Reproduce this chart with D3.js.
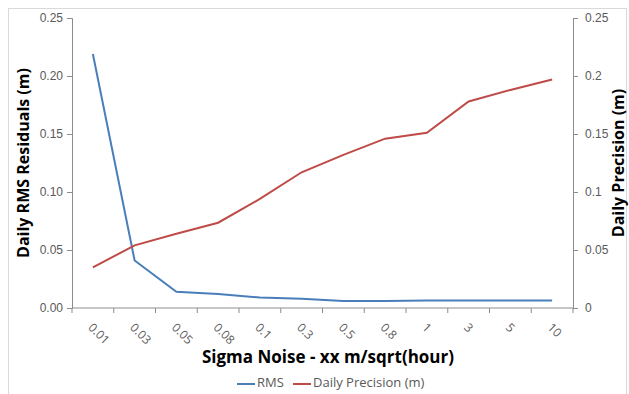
<!DOCTYPE html>
<html>
<head>
<meta charset="utf-8">
<script src="https://cdn.jsdelivr.net/npm/d3@7"></script>
<style>
  body { margin: 0; background: #fff; }
  svg { font-family: "Open Sans", "Noto Sans", sans-serif; }
</style>
</head>
<body>
<svg id="chart" width="629" height="394"></svg>
<script>
const categories = ['0.01', '0.03', '0.05', '0.08', '0.1', '0.3', '0.5', '0.8', '1', '3', '5', '10'];
const rms = [0.219, 0.041, 0.014, 0.012, 0.009, 0.008, 0.006, 0.006, 0.0065, 0.0065, 0.0065, 0.0065];
const precision = [0.035, 0.054, 0.064, 0.0735, 0.094, 0.117, 0.132, 0.146, 0.151, 0.178, 0.188, 0.197];
const leftTicks = [0, 0.05, 0.10, 0.15, 0.20, 0.25];
const rightTicks = [0, 0.05, 0.1, 0.15, 0.2, 0.25];

const margin = {left: 72, right: 56, top: 18, bottom: 86};
const width = 629 - margin.left - margin.right;
const height = 394 - margin.top - margin.bottom;

const root = d3.select('#chart');

// outer frame
root.append('rect')
  .attr('x', 8.5).attr('y', 8.5)
  .attr('width', 618).attr('height', 400)
  .attr('fill', 'none')
  .attr('stroke', '#d9d9d9');

const svg = root.append('g')
  .attr('transform', 'translate(' + margin.left + ',' + margin.top + ')');

const x = d3.scaleBand()
  .domain(categories)
  .range([0, width]);

const y = d3.scaleLinear().domain([0, 0.25]).range([height, 0]);
const y2 = d3.scaleLinear().domain([0, 0.25]).range([height, 0]);

const axisColor = '#8c8c8c';
const labelColor = '#595959';

// left axis
const gl = svg.append('g')
  .call(d3.axisLeft(y).tickValues(leftTicks).tickFormat(d3.format('.2f')).tickSize(5).tickPadding(4));

// right axis
const gr = svg.append('g')
  .attr('transform', 'translate(' + width + ',0)')
  .call(d3.axisRight(y2).tickValues(rightTicks).tickFormat(d => d === 0 ? '0' : String(d)).tickSize(5).tickPadding(7));

// bottom axis: ticks at band edges
const gb = svg.append('g')
  .attr('transform', 'translate(0,' + height + ')');
gb.append('line')
  .attr('x1', 0).attr('x2', width)
  .attr('stroke', axisColor);
gb.selectAll('.edge')
  .data(d3.range(categories.length + 1))
  .enter().append('line')
  .attr('class', 'edge')
  .attr('x1', i => i * x.step()).attr('x2', i => i * x.step())
  .attr('y1', 0).attr('y2', 5)
  .attr('stroke', axisColor);
gb.selectAll('.lab')
  .data(categories)
  .enter().append('text')
  .attr('class', 'lab')
  .attr('transform', d => 'translate(' + (x(d) + x.bandwidth() / 2 - 3) + ',18) rotate(45)')
  .attr('text-anchor', 'start')
  .attr('dominant-baseline', 'middle')
  .attr('fill', labelColor)
  .style('font-size', '12px')
  .text(d => d);

[gl, gr].forEach(g => {
  g.select('.domain').attr('stroke', axisColor);
  g.selectAll('.tick line').attr('stroke', axisColor);
  g.selectAll('.tick text').attr('fill', labelColor).style('font-size', '12px');
});

const cx = d => x(d) + x.bandwidth() / 2;

svg.append('path')
  .datum(rms)
  .attr('fill', 'none')
  .attr('stroke', '#4a7ebb')
  .attr('stroke-width', 2)
  .attr('d', d3.line().x((d, i) => cx(categories[i])).y(d => y(d)));

svg.append('path')
  .datum(precision)
  .attr('fill', 'none')
  .attr('stroke', '#be4b48')
  .attr('stroke-width', 2)
  .attr('d', d3.line().x((d, i) => cx(categories[i])).y(d => y2(d)));

// axis titles
root.append('text')
  .attr('transform', 'translate(29,' + (margin.top + height / 2) + ') rotate(-90)')
  .attr('text-anchor', 'middle')
  .style('font-size', '16px').style('font-weight', 'bold')
  .attr('fill', '#000')
  .text('Daily RMS Residuals (m)');

root.append('text')
  .attr('transform', 'translate(624,' + (margin.top + height / 2) + ') rotate(-90)')
  .attr('text-anchor', 'middle')
  .style('font-size', '16px').style('font-weight', 'bold')
  .attr('fill', '#000')
  .text('Daily Precision (m)');

root.append('text')
  .attr('x', 328).attr('y', 363)
  .attr('text-anchor', 'middle')
  .style('font-size', '17px').style('font-weight', 'bold')
  .attr('fill', '#000')
  .text('Sigma Noise - xx m/sqrt(hour)');

// legend
const legend = root.append('g').attr('transform', 'translate(237,384)');
const items = [{name: 'RMS', color: '#4a7ebb', dx: 0}, {name: 'Daily Precision (m)', color: '#be4b48', dx: 56}];
items.forEach(it => {
  legend.append('line')
    .attr('x1', it.dx).attr('x2', it.dx + 18)
    .attr('stroke', it.color).attr('stroke-width', 2);
  legend.append('text')
    .attr('x', it.dx + 20).attr('y', 0)
    .attr('dominant-baseline', 'middle')
    .attr('fill', labelColor)
    .style('font-size', '13px')
    .text(it.name);
});
</script>
</body>
</html>
